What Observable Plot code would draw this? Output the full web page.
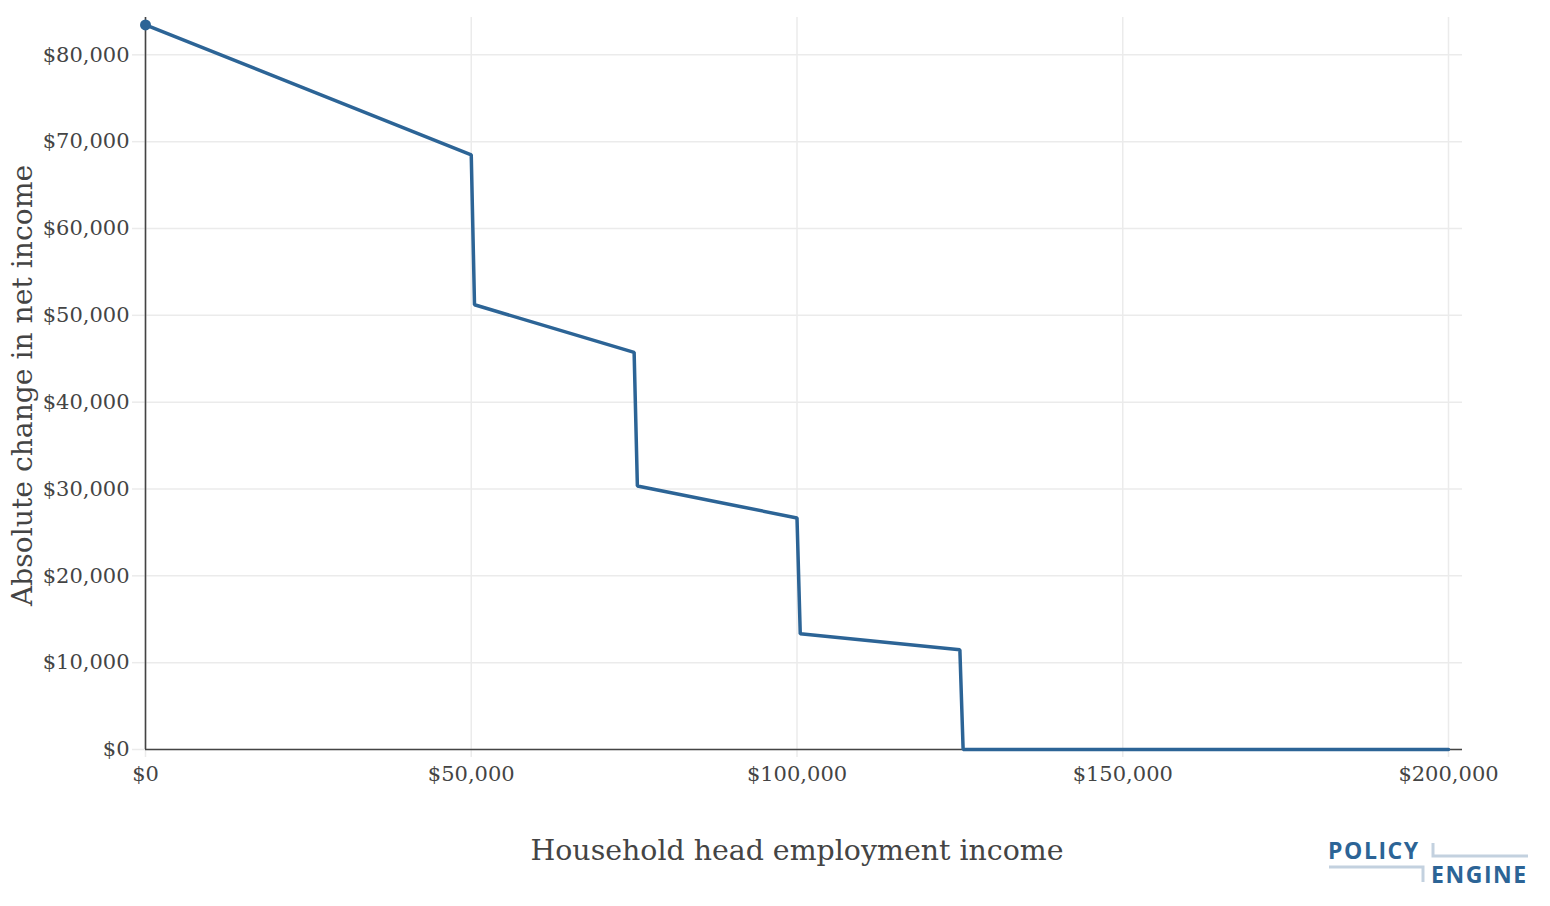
<!DOCTYPE html>
<html>
<head>
<meta charset="utf-8">
<script src="https://cdn.jsdelivr.net/npm/d3@7"></script>
<script src="https://cdn.jsdelivr.net/npm/@observablehq/plot@0.6"></script>
<style>
  html, body { margin: 0; padding: 0; background: #fff; }
  #wrap { position: relative; width: 1550px; height: 906px; }
</style>
</head>
<body>
<div id="wrap"></div>
<script>
// Data
const income = [0, 50000, 50500, 75000, 75500, 100000, 100500, 125000, 125500, 200000];
const change = [83450, 68480, 51220, 45730, 30350, 26670, 13320, 11480, 0, 0];
const xTicks = [0, 50000, 100000, 150000, 200000];
const yTicks = [0, 10000, 20000, 30000, 40000, 50000, 60000, 70000, 80000];
const xTitle = "Household head employment income";
const yTitle = "Absolute change in net income";

const data = income.map((x, i) => ({x, y: change[i]}));
const fmt = d3.format("$,");
const blue = "#2C6496";
const ink = "#444444";
const grid = "#ebebeb";
const font = "DejaVu Serif";

const chart = Plot.plot({
  width: 1550,
  height: 906,
  marginLeft: 145,
  marginRight: 88,
  marginTop: 17,
  marginBottom: 157,
  style: {fontFamily: font, background: "#fff", color: ink},
  x: {domain: [0, 202150]},
  y: {domain: [0, 84300]},
  marks: [
    Plot.gridX(xTicks, {stroke: grid, strokeOpacity: 1, strokeWidth: 1.5}),
    Plot.gridY(yTicks, {stroke: grid, strokeOpacity: 1, strokeWidth: 1.5}),
    Plot.axisX(xTicks, {tickSize: 8, tickPadding: 9, tickFormat: fmt, fontSize: 21, fill: ink, stroke: grid, strokeWidth: 1.5, label: null}),
    Plot.axisY(yTicks, {tickSize: 13, tickPadding: 3, tickFormat: fmt, fontSize: 21, fill: ink, stroke: grid, strokeWidth: 1.5, label: null}),
    Plot.ruleY([0], {stroke: ink, strokeWidth: 1.6}),
    Plot.ruleX([0], {stroke: ink, strokeWidth: 1.6}),
    Plot.line(data, {x: "x", y: "y", stroke: blue, strokeWidth: 3.5, strokeLinejoin: "miter"}),
    Plot.dot(data.slice(0, 1), {x: "x", y: "y", r: 5.5, fill: blue}),
    Plot.text([xTitle], {frameAnchor: "bottom", dx: -7, dy: 110, fontSize: 28.4, fill: ink, textAnchor: "middle"}),
    Plot.text([yTitle], {frameAnchor: "left", dx: -123, dy: 2, rotate: -90, fontSize: 28.2, fill: ink, textAnchor: "middle"})
  ]
});
document.getElementById("wrap").appendChild(chart);

// PolicyEngine logo
const logo = `
<svg width="1550" height="906" xmlns="http://www.w3.org/2000/svg" style="position:absolute;left:0;top:0;pointer-events:none">
  <g font-family="Open Sans, DejaVu Sans, sans-serif" font-weight="700" fill="${blue}" font-size="23" letter-spacing="1.8">
    <text x="1328" y="858.5" textLength="92" lengthAdjust="spacing">POLICY</text>
    <text x="1431" y="882.5" textLength="97" lengthAdjust="spacing">ENGINE</text>
  </g>
  <g stroke="#c3d1df" stroke-width="3" fill="none">
    <polyline points="1433,843 1433,856 1528,856"/>
    <polyline points="1329,867 1423,867 1423,882"/>
  </g>
</svg>`;
document.getElementById("wrap").insertAdjacentHTML("beforeend", logo);
</script>
</body>
</html>
